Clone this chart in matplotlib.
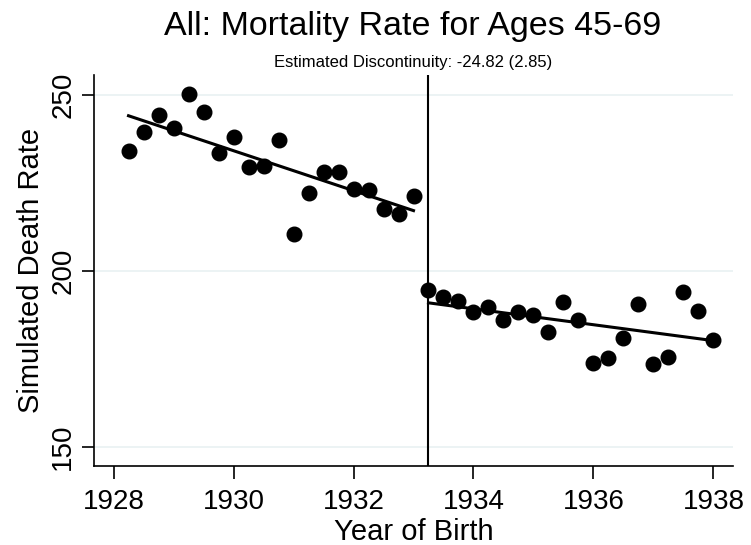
import numpy as np
import matplotlib
matplotlib.use('Agg')
import matplotlib.pyplot as plt

plt.rcParams['font.family'] = ['Liberation Sans', 'DejaVu Sans']

CUTOFF = 1933.25
# quarterly birth cohorts
left_x = [1928.25, 1928.5, 1928.75, 1929.0, 1929.25, 1929.5, 1929.75, 1930.0,
          1930.25, 1930.5, 1930.75, 1931.0, 1931.25, 1931.5, 1931.75, 1932.0,
          1932.25, 1932.5, 1932.75, 1933.0]
left_y = [234.1, 239.6, 244.3, 240.7, 250.2, 245.1, 233.4, 238.1, 229.6, 229.9,
          237.2, 210.4, 222.0, 228.0, 228.0, 223.4, 223.1, 217.7, 216.1, 221.3]
right_x = [1933.25, 1933.5, 1933.75, 1934.0, 1934.25, 1934.5, 1934.75, 1935.0,
           1935.25, 1935.5, 1935.75, 1936.0, 1936.25, 1936.5, 1936.75, 1937.0,
           1937.25, 1937.5, 1937.75, 1938.0]
right_y = [194.6, 192.7, 191.3, 188.3, 189.7, 186.1, 188.3, 187.5, 182.6, 191.1,
           186.1, 173.8, 175.3, 181.0, 190.5, 173.4, 175.6, 194.0, 188.5, 180.2]

fig = plt.figure(figsize=(7.51, 5.45), dpi=100)
ax = fig.add_axes([0.1256, 0.1455, 0.850, 0.717])

for gy in [150, 200, 250]:
	ax.axhline(gy, color='#eaf2f3', lw=1.3, zorder=0)

for xs, ys in [(left_x, left_y), (right_x, right_y)]:
	xs = np.array(xs)
	ys = np.array(ys)
	ax.plot(xs, ys, 'o', color='black', ms=10.5, zorder=3)
	b = np.polyfit(xs, ys, 1)
	ax.plot(xs[[0, -1]], np.polyval(b, xs[[0, -1]]), color='black', lw=2.2, zorder=2)

ax.axvline(CUTOFF, color='black', lw=1.5)

ax.set_xlim(1927.68, 1938.32)
ax.set_ylim(144.6, 255.7)
ax.set_xticks([1928, 1930, 1932, 1934, 1936, 1938])
ax.set_yticks([150, 200, 250])
ax.tick_params(axis='both', direction='out', length=9, width=1.2, labelsize=20)
ax.tick_params(axis='x', pad=8)
ax.tick_params(axis='y', pad=4)
for lab in ax.get_yticklabels():
	lab.set_rotation(90)
	lab.set_va('center')
for s in ['top', 'right']:
	ax.spines[s].set_visible(False)
for s in ['left', 'bottom']:
	ax.spines[s].set_linewidth(1.2)

ax.set_xlabel('Year of Birth', fontsize=21, labelpad=2)
ax.set_ylabel('Simulated Death Rate', fontsize=21, labelpad=4)
fig.text(0.55, 0.9358, 'All: Mortality Rate for Ages 45-69', fontsize=24.5, ha='center', va='baseline')
fig.text(0.55, 0.8776, 'Estimated Discontinuity: -24.82 (2.85)', fontsize=12, ha='center', va='baseline')

fig.savefig('out.png', dpi=100)
